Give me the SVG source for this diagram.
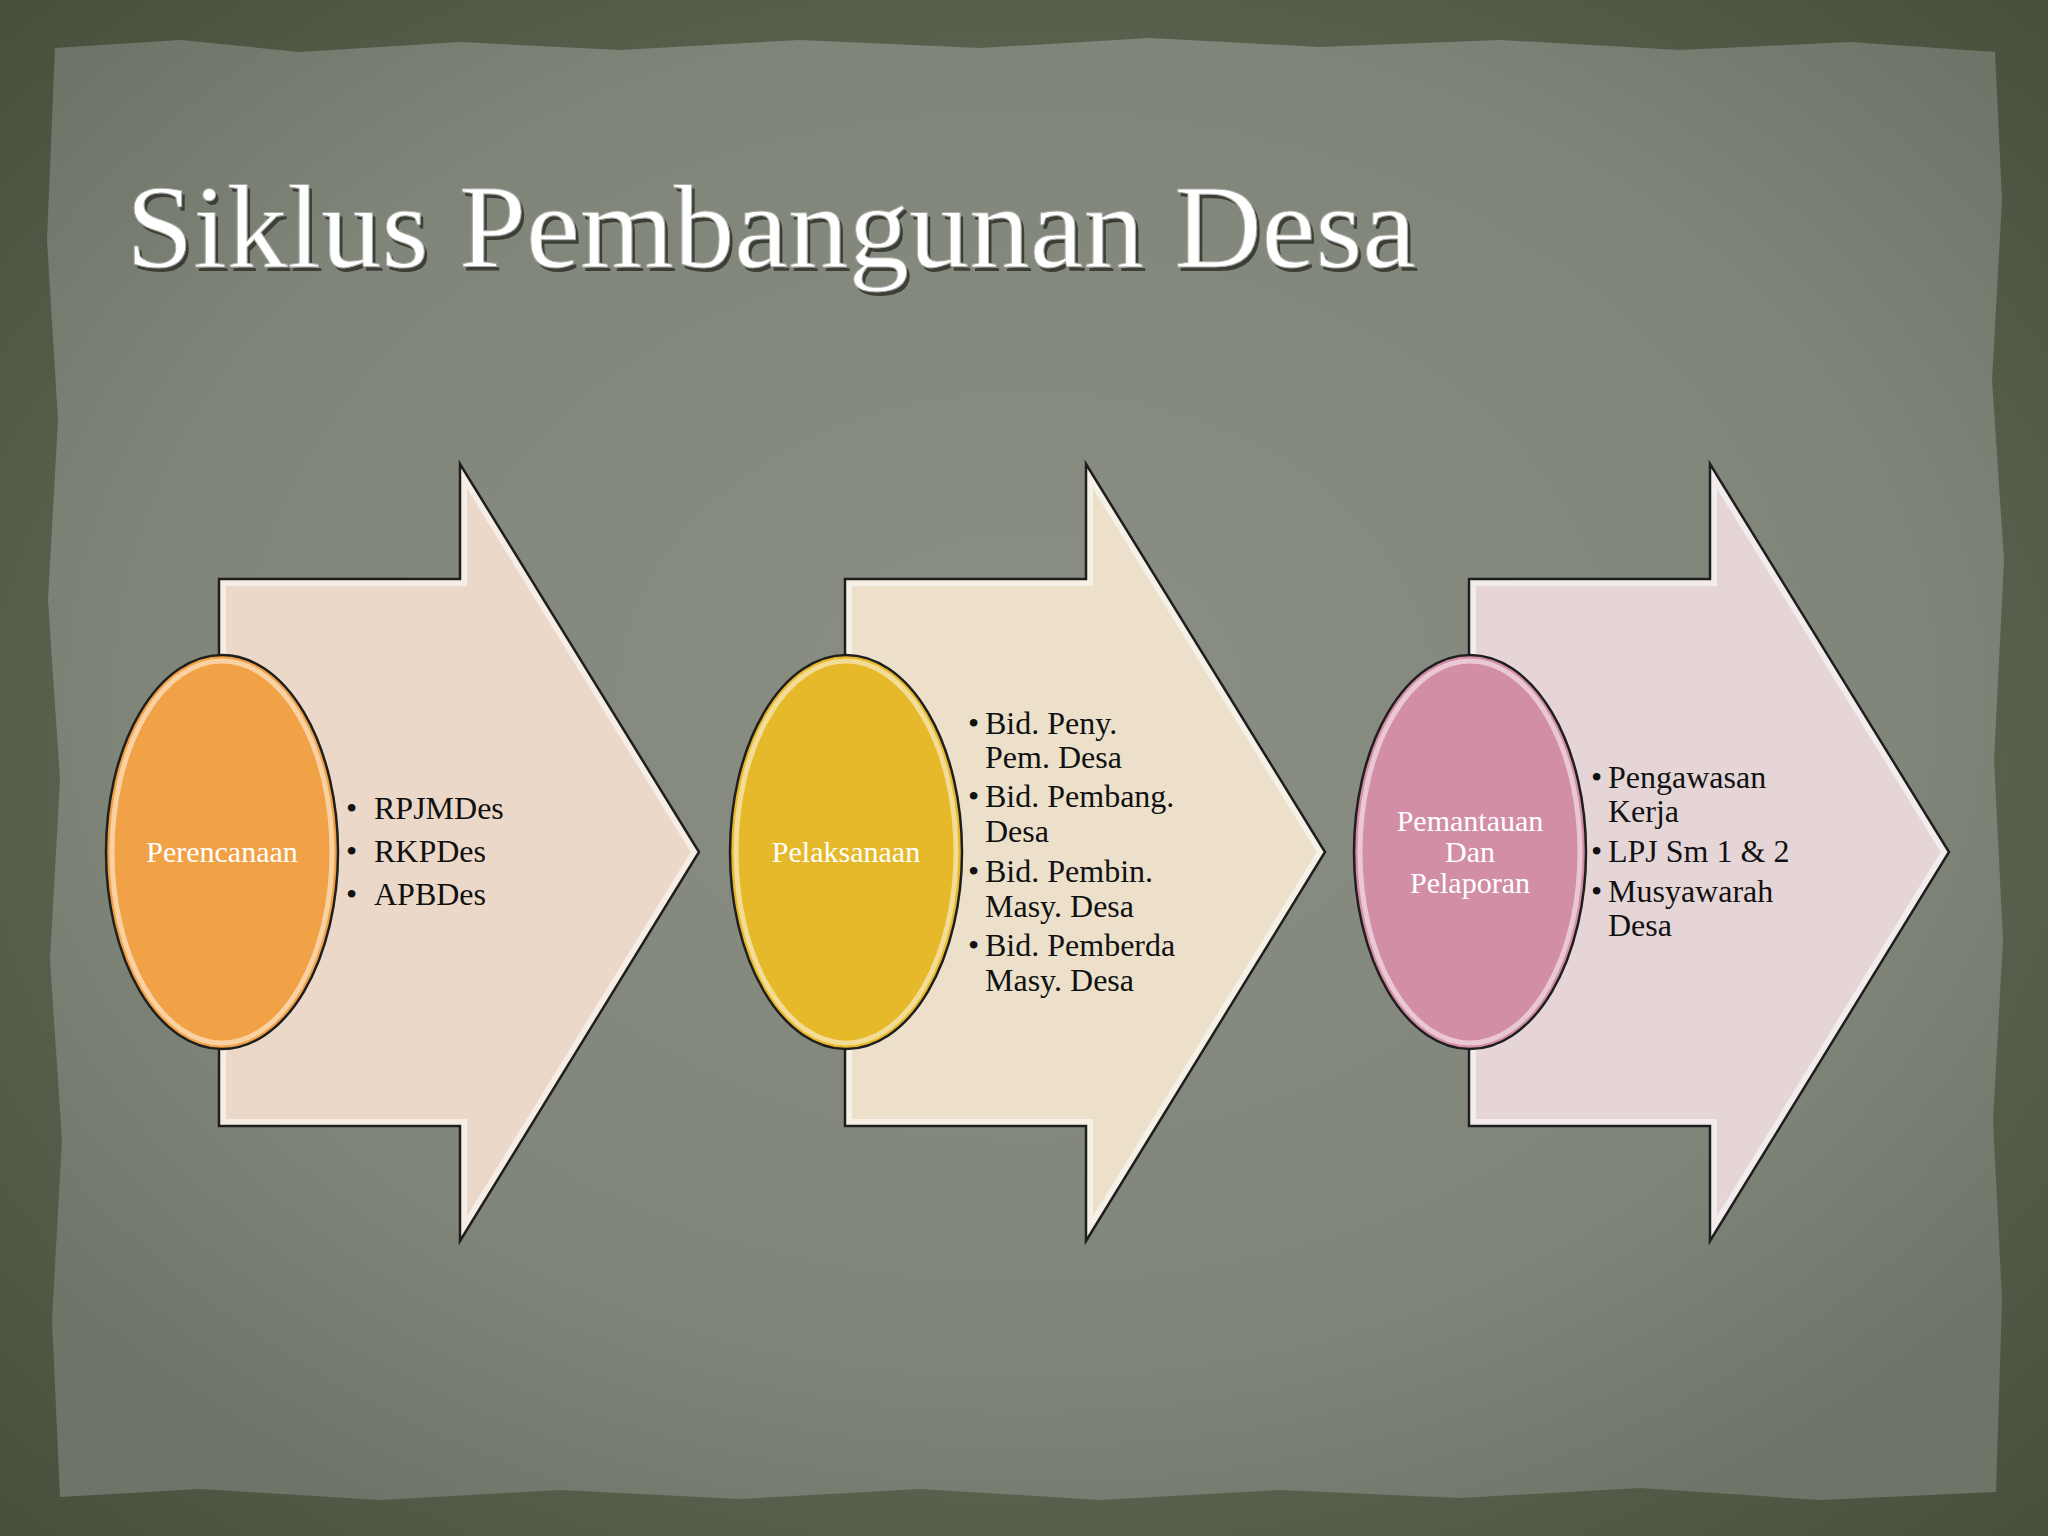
<svg xmlns="http://www.w3.org/2000/svg" width="2048" height="1536" viewBox="0 0 2048 1536">
<style>
.title{font-family:"Liberation Serif","DejaVu Serif",serif;font-size:118px;}
.lbl{font-family:"Liberation Serif","DejaVu Serif",serif;font-size:30px;fill:#ffffff;text-anchor:middle;}
.item{font-family:"Liberation Serif","DejaVu Serif",serif;font-size:32px;fill:#111111;}
.outline{fill:none;stroke:#1e1e1e;stroke-width:2.5;}
.bevel{fill:none;stroke:#ffffff;stroke-width:14;stroke-opacity:0.55;}
.ring{fill:none;stroke:#ffffff;stroke-width:5;stroke-opacity:0.5;}
</style>
<defs>
<radialGradient id="paper" cx="50%" cy="45%" r="65%">
<stop offset="0" stop-color="#8a8e83"/>
<stop offset="0.7" stop-color="#80857a"/>
<stop offset="1" stop-color="#6e7467"/>
</radialGradient>
<radialGradient id="frame" cx="50%" cy="50%" r="70%">
<stop offset="0.6" stop-color="#5b6450"/>
<stop offset="1" stop-color="#47503c"/>
</radialGradient>
<path id="arr" d="M0 0 H241 V-115 L480 273 L241 662 V547 H0 Z"/>
<clipPath id="clipArr"><use href="#arr"/></clipPath>
<clipPath id="clipEll"><ellipse cx="0" cy="0" rx="116" ry="197"/></clipPath>
</defs>
<rect x="0" y="0" width="2048" height="1536" fill="url(#frame)"/>
<path d="M55 48 L180 40 L300 52 L460 42 L620 50 L800 40 L980 48 L1150 38 L1320 47 L1500 40 L1680 50 L1850 42 L1995 52 L2002 200 L1992 380 L2004 560 L1994 760 L2003 940 L1993 1120 L2002 1300 L1996 1492 L1820 1500 L1640 1488 L1460 1498 L1280 1490 L1100 1500 L920 1489 L740 1499 L560 1490 L380 1500 L200 1489 L60 1497 L52 1320 L62 1140 L50 960 L60 780 L48 600 L58 420 L47 240 Z" fill="url(#paper)"/>
<g id="title">
<text class="title" x="129" y="271" fill="#3b3f36" textLength="1290" lengthAdjust="spacingAndGlyphs">Siklus Pembangunan Desa</text>
<text class="title" x="126" y="267" fill="#ffffff" stroke="#a9aaa4" stroke-width="1" textLength="1290" lengthAdjust="spacingAndGlyphs">Siklus Pembangunan Desa</text>
</g>
<g id="node-perencanaan">
<g transform="translate(219,579)">
<use href="#arr" fill="#ecd8c8"/>
<use href="#arr" class="bevel" clip-path="url(#clipArr)"/>
<use href="#arr" class="outline"/>
</g>
<g transform="translate(222,852)">
<ellipse cx="0" cy="0" rx="116" ry="197" fill="#f2a246"/>
<ellipse cx="0" cy="0" rx="110" ry="191" class="ring" clip-path="url(#clipEll)"/>
<ellipse cx="0" cy="0" rx="116" ry="197" class="outline"/>
</g>
<text class="lbl" x="222" y="862">Perencanaan</text>
<text class="item" x="346" y="819">•</text><text class="item" x="374" y="819">RPJMDes</text>
<text class="item" x="346" y="862">•</text><text class="item" x="374" y="862">RKPDes</text>
<text class="item" x="346" y="905">•</text><text class="item" x="374" y="905">APBDes</text>
</g>
<g id="node-pelaksanaan">
<g transform="translate(845,579)">
<use href="#arr" fill="#ece0cb"/>
<use href="#arr" class="bevel" clip-path="url(#clipArr)"/>
<use href="#arr" class="outline"/>
</g>
<g transform="translate(846,852)">
<ellipse cx="0" cy="0" rx="116" ry="197" fill="#e6b92a"/>
<ellipse cx="0" cy="0" rx="110" ry="191" class="ring" clip-path="url(#clipEll)"/>
<ellipse cx="0" cy="0" rx="116" ry="197" class="outline"/>
</g>
<text class="lbl" x="846" y="862">Pelaksanaan</text>
<text class="item" x="968" y="734">•</text><text class="item" x="985" y="734">Bid. Peny.</text>
<text class="item" x="985" y="768">Pem. Desa</text>
<text class="item" x="968" y="807">•</text><text class="item" x="985" y="807">Bid. Pembang.</text>
<text class="item" x="985" y="842">Desa</text>
<text class="item" x="968" y="882">•</text><text class="item" x="985" y="882">Bid. Pembin.</text>
<text class="item" x="985" y="917">Masy. Desa</text>
<text class="item" x="968" y="956">•</text><text class="item" x="985" y="956">Bid. Pemberda</text>
<text class="item" x="985" y="991">Masy. Desa</text>
</g>
<g id="node-pemantauan">
<g transform="translate(1469,579)">
<use href="#arr" fill="#e5d5d7"/>
<use href="#arr" class="bevel" clip-path="url(#clipArr)"/>
<use href="#arr" class="outline"/>
</g>
<g transform="translate(1470,852)">
<ellipse cx="0" cy="0" rx="116" ry="197" fill="#d28ea6"/>
<ellipse cx="0" cy="0" rx="110" ry="191" class="ring" clip-path="url(#clipEll)"/>
<ellipse cx="0" cy="0" rx="116" ry="197" class="outline"/>
</g>
<text class="lbl" x="1470" y="831">Pemantauan</text>
<text class="lbl" x="1470" y="862">Dan</text>
<text class="lbl" x="1470" y="893">Pelaporan</text>
<text class="item" x="1591" y="788">•</text><text class="item" x="1608" y="788">Pengawasan</text>
<text class="item" x="1608" y="822">Kerja</text>
<text class="item" x="1591" y="862">•</text><text class="item" x="1608" y="862">LPJ Sm 1 &amp; 2</text>
<text class="item" x="1591" y="902">•</text><text class="item" x="1608" y="902">Musyawarah</text>
<text class="item" x="1608" y="936">Desa</text>
</g>
</svg>
